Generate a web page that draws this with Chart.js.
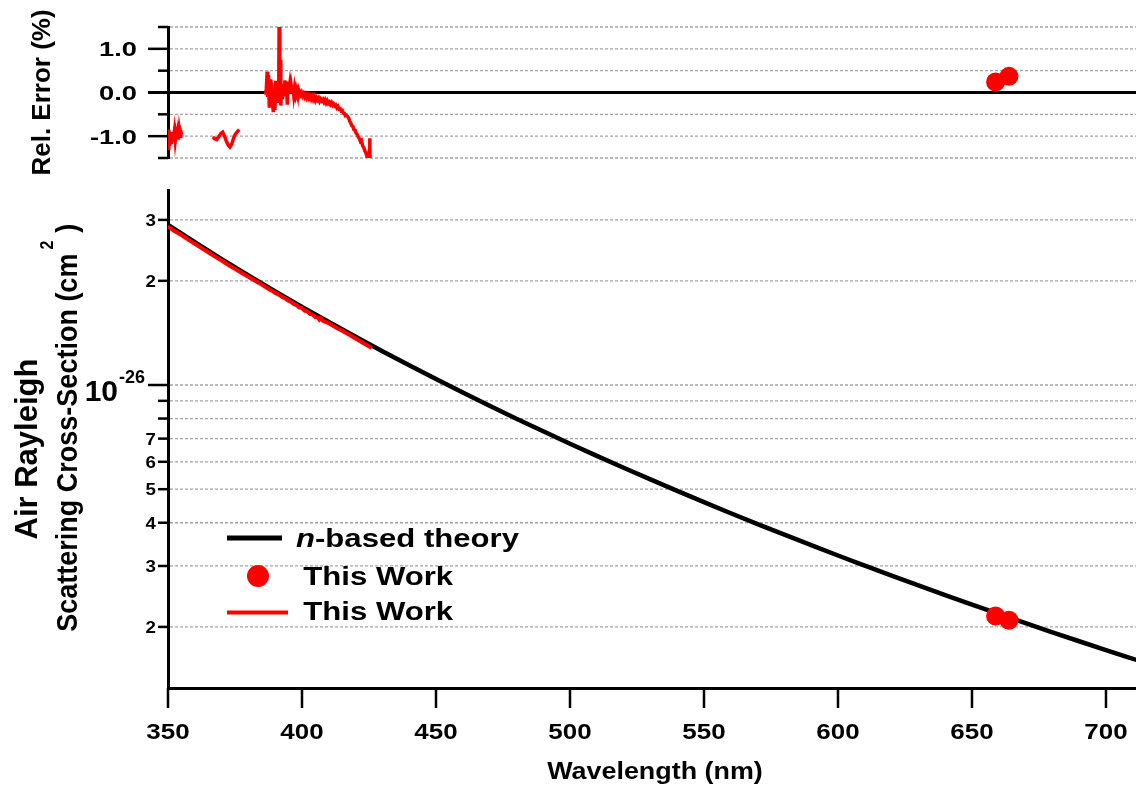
<!DOCTYPE html>
<html lang="en">
<head>
<meta charset="UTF-8">
<title>Air Rayleigh Scattering Cross-Section</title>
<script src="https://cdn.jsdelivr.net/npm/chart.js@4.4.1/dist/chart.umd.min.js"></script>
<style>
  html, body { margin: 0; padding: 0; background: #fff; }
  #wrap { position: relative; width: 1136px; height: 792px; }
  #errChart { position: absolute; left: 0; top: 0; }
  #mainChart { position: absolute; left: 0; top: 180px; }
</style>
</head>
<body>
<div id="wrap">
  <canvas id="errChart" width="1136" height="180"></canvas>
  <canvas id="mainChart" width="1136" height="612"></canvas>
</div>
<script>
// ---- data ----
const wlTicks = [350, 400, 450, 500, 550, 600, 650, 700];
const errTicks = [-1.5, -1.0, -0.5, 0, 0.5, 1.0, 1.5];
const errTickLabels = { "1": "1.0", "0": "0.0", "-1": "-1.0" };
const csTicks = [2e-27, 3e-27, 4e-27, 5e-27, 6e-27, 7e-27, 8e-27, 9e-27, 1e-26, 2e-26, 3e-26];
const csTickLabels = ["2", "3", "4", "5", "6", "7", "", "", "", "2", "3"];

// n-based theory (cm^2)
const theoryWl = [350, 360, 370, 380, 390, 400, 410, 420, 430, 440, 450, 460, 470, 480, 490, 500, 510, 520, 530,
  540, 550, 560, 570, 580, 590, 600, 610, 620, 630, 640, 650, 660, 670, 680, 690, 700, 712];
const theoryVal = [2.900e-26, 2.585e-26, 2.312e-26, 2.073e-26, 1.865e-26, 1.682e-26, 1.521e-26, 1.378e-26,
  1.252e-26, 1.140e-26, 1.040e-26, 9.509e-27, 8.709e-27, 7.992e-27, 7.349e-27, 6.766e-27, 6.241e-27,
  5.765e-27, 5.336e-27, 4.945e-27, 4.588e-27, 4.260e-27, 3.964e-27, 3.695e-27, 3.445e-27, 3.216e-27,
  3.007e-27, 2.813e-27, 2.635e-27, 2.471e-27, 2.320e-27, 2.180e-27, 2.050e-27, 1.930e-27, 1.818e-27,
  1.714e-27, 1.600e-27];

// This Work, broadband spectrum (cm^2)
const workWl = [350, 352, 355, 358, 360, 363, 365, 368, 370, 373, 375, 378, 380, 383, 385, 388, 389, 390, 391,
  392, 393, 394, 395, 396, 397, 398, 399, 400, 401, 402, 403, 404, 405, 406, 406.5, 407, 408, 410, 413, 415,
  418, 420, 423, 425, 426];
const workVal = [2.875e-26, 2.800e-26, 2.712e-26, 2.618e-26, 2.560e-26, 2.474e-26, 2.420e-26, 2.338e-26,
  2.290e-26, 2.212e-26, 2.166e-26, 2.096e-26, 2.054e-26, 1.990e-26, 1.950e-26, 1.885e-26, 1.870e-26,
  1.845e-26, 1.832e-26, 1.810e-26, 1.790e-26, 1.775e-26, 1.752e-26, 1.738e-26, 1.712e-26, 1.700e-26,
  1.676e-26, 1.668e-26, 1.640e-26, 1.632e-26, 1.604e-26, 1.598e-26, 1.570e-26, 1.566e-26, 1.545e-26,
  1.560e-26, 1.530e-26, 1.508e-26, 1.462e-26, 1.435e-26, 1.392e-26, 1.362e-26, 1.320e-26, 1.293e-26, 1.280e-26];

// This Work, single wavelength points
const dotWl = [658.8, 663.8];
const dotVal = [2.15e-27, 2.09e-27];
const dotErr = [0.24, 0.37];

// relative error of the spectrum (%), three pieces
const errWl1 = [350.0, 350.3, 350.6, 350.9, 351.2, 351.5, 351.8, 352.1, 352.4, 352.7, 353.0, 353.3, 353.6,
  353.9, 354.2, 354.5, 354.8, 355.1];
const errVal1 = [-1.28, -0.85, -1.22, -0.95, -1.18, -0.90, -1.12, -1.02, -0.88, -1.10, -0.95, -1.05, -0.92,
  -1.08, -0.86, -1.00, -0.90, -0.96];
const errWl2 = [366.7, 367.4, 368.2, 369.0, 369.7, 370.4, 371.1, 371.8, 372.5, 373.1, 373.8, 374.4, 375.0,
  375.8, 376.6];
const errVal2 = [-1.02, -1.06, -1.08, -1.01, -0.94, -0.91, -1.00, -1.12, -1.21, -1.25, -1.18, -1.06, -0.97,
  -0.90, -0.85];
const errWl3 = [386.4, 386.7, 387.0, 387.2, 387.5, 387.8, 388.1, 388.4, 388.7, 389.0, 389.3, 389.6, 389.9,
  390.2, 390.5, 390.8, 391.1, 391.3, 391.5, 391.7, 391.9, 392.1, 392.4, 392.7, 393.0, 393.3, 393.6, 393.9,
  394.2, 394.5, 394.8, 395.1, 395.4, 395.7, 396.0, 396.3, 396.6, 396.9, 397.2, 397.5, 397.8, 398.1, 398.4,
  398.7, 399.0, 399.4, 399.8, 400.2, 400.6, 401.0, 401.4, 401.8, 402.2, 402.6, 403.0, 403.4, 403.8, 404.2,
  404.6, 405.0, 405.4, 405.8, 406.2, 406.6, 407.0, 407.4, 407.8, 408.2, 408.6, 409.0, 409.4, 409.8, 410.2,
  410.6, 411.0, 411.4, 411.8, 412.2, 412.6, 413.0, 413.4, 413.8, 414.2, 414.6, 415.0, 415.4, 415.8, 416.2,
  416.6, 417.0, 417.4, 417.8, 418.2, 418.6, 419.0, 419.4, 419.8, 420.2, 420.6, 421.0, 421.4, 421.8, 422.2,
  422.6, 423.0, 423.4, 423.8, 424.2, 424.6, 424.9, 425.1, 425.3, 425.4];
const errVal3 = [-0.05, 0.10, 0.48, -0.10, 0.40, -0.35, 0.30, -0.05, 0.22, -0.25, -0.45, 0.05, -0.40,
  0.27, -0.10, 0.15, -0.20, -0.10, 1.90, -0.20, 0.75, -0.30, 0.10, -0.15, 0.20, -0.05, 0.28, 0.05,
  0.25, -0.28, 0.20, 0.05, 0.18, -0.02, 0.15, 0.02, 0.12, -0.05, 0.10, -0.02, 0.08, 0.00, 0.06,
  -0.06, 0.02, -0.05, 0.00, -0.08, -0.03, -0.10, -0.05, -0.12, -0.06, -0.13, -0.08, -0.15, -0.09, -0.16,
  -0.10, -0.18, -0.12, -0.17, -0.13, -0.20, -0.15, -0.19, -0.16, -0.22, -0.17, -0.24, -0.19, -0.25, -0.22,
  -0.27, -0.23, -0.29, -0.26, -0.31, -0.29, -0.35, -0.32, -0.38, -0.37, -0.42, -0.41, -0.47, -0.48, -0.53,
  -0.52, -0.55, -0.58, -0.66, -0.70, -0.76, -0.78, -0.85, -0.86, -0.93, -0.96, -1.02, -1.05, -1.12, -1.10,
  -1.22, -1.25, -1.33, -1.38, -1.45, -1.52, -1.42, -1.55, -1.05, -1.55];

// ---- helpers ----
const FONT = "'Liberation Sans', Arial, sans-serif";
const RED = "#ff0000";
const GRID = "#a4a4a4";

function pts(xs, ys) { return xs.map((x, i) => ({ x, y: ys[i] })); }

// draw horizontal text, optionally stretched sideways
function hText(ctx, str, x, y, size, sx, align, style) {
  ctx.save();
  ctx.font = (style || "bold") + " " + size + "px " + FONT;
  ctx.textBaseline = "alphabetic";
  ctx.textAlign = "left";
  const w = ctx.measureText(str).width * sx;
  const left = align === "right" ? x - w : align === "center" ? x - w / 2 : x;
  ctx.translate(left, y);
  ctx.scale(sx, 1);
  ctx.fillStyle = "#000";
  ctx.fillText(str, 0, 0);
  ctx.restore();
  return w;
}

function dotted(ctx, x1, x2, y) {
  ctx.save();
  ctx.strokeStyle = GRID;
  ctx.lineWidth = 1.3;
  ctx.setLineDash([3, 2]);
  ctx.beginPath();
  ctx.moveTo(x1, y);
  ctx.lineTo(x2, y);
  ctx.stroke();
  ctx.restore();
}

function tick(ctx, x1, y1, x2, y2, w) {
  ctx.save();
  ctx.strokeStyle = "#000";
  ctx.lineWidth = w || 2.5;
  ctx.beginPath();
  ctx.moveTo(x1, y1);
  ctx.lineTo(x2, y2);
  ctx.stroke();
  ctx.restore();
}

const xScaleBase = {
  type: "linear", min: 350, max: 711.2,
  afterBuildTicks: s => { s.ticks = wlTicks.map(v => ({ value: v })); }
};

// ---- top panel: relative error ----
const errDecor = {
  id: "errDecor",
  beforeDatasetsDraw(chart) {
    const { ctx, chartArea: a, scales: { y } } = chart;
    y.ticks.forEach(t => {
      if (t.value !== 0) dotted(ctx, a.left + 2, a.right, y.getPixelForValue(t.value));
    });
    const y0 = y.getPixelForValue(0);
    tick(ctx, a.left - 20, y0, a.right, y0, 3);
  },
  afterDraw(chart) {
    const { ctx, chartArea: a, scales: { y } } = chart;
    y.ticks.forEach(t => {
      const py = y.getPixelForValue(t.value);
      const lab = errTickLabels[String(t.value)];
      tick(ctx, a.left - (lab ? 20 : 10), py, a.left, py);
      if (lab) hText(ctx, lab, 137, py + 7.5, 21, 1.3, "right");
    });
    ctx.save();
    ctx.font = "bold 26px " + FONT;
    ctx.fillStyle = "#000";
    ctx.translate(50, 92.5);
    ctx.rotate(-Math.PI / 2);
    ctx.textAlign = "center";
    ctx.textBaseline = "alphabetic";
    ctx.fillText("Rel. Error (%)", 0, 0);
    ctx.restore();
  }
};

new Chart(document.getElementById("errChart"), {
  type: "scatter",
  data: {
    datasets: [
      { data: pts(dotWl, dotErr), pointRadius: 9.5, pointBackgroundColor: RED, pointBorderWidth: 0, showLine: false },
      { data: pts(errWl1, errVal1), showLine: true, borderColor: RED, borderWidth: 3.5, pointRadius: 0 },
      { data: pts(errWl2, errVal2), showLine: true, borderColor: RED, borderWidth: 3.5, pointRadius: 0 },
      { data: pts(errWl3, errVal3), showLine: true, borderColor: RED, borderWidth: 3.5, pointRadius: 0 }
    ]
  },
  options: {
    responsive: false,
    devicePixelRatio: 1,
    animation: false,
    layout: { autoPadding: false, padding: { top: 27, bottom: 22, left: 0, right: 0 } },
    plugins: { legend: { display: false }, tooltip: { enabled: false } },
    scales: {
      x: Object.assign({ display: false }, xScaleBase),
      y: {
        type: "linear", min: -1.5, max: 1.5,
        afterBuildTicks: s => { s.ticks = errTicks.map(v => ({ value: v })); },
        afterFit: s => { s.width = 168; },
        ticks: { display: false },
        grid: { display: false },
        border: { display: true, color: "#000", width: 3 }
      }
    }
  },
  plugins: [errDecor]
});

// ---- main panel: cross-section ----
const mainDecor = {
  id: "mainDecor",
  beforeDatasetsDraw(chart) {
    const { ctx, chartArea: a, scales: { y } } = chart;
    y.ticks.forEach(t => dotted(ctx, a.left + 2, a.right, y.getPixelForValue(t.value)));
  },
  afterDraw(chart) {
    const { ctx, chartArea: a, scales: { x, y } } = chart;
    // y ticks and labels
    y.ticks.forEach((t, i) => {
      const py = y.getPixelForValue(t.value);
      const decade = t.value === 1e-26;
      tick(ctx, a.left - (decade ? 20 : 10), py, a.left, py);
      if (decade) {
        hText(ctx, "10", 118, py + 15.5, 30, 1.0, "right");
        hText(ctx, "-26", 119, py - 2.5, 18, 1.0, "left");
      } else if (csTickLabels[i]) {
        hText(ctx, csTickLabels[i], 156, py + 6, 17, 1.1, "right");
      }
    });
    // x ticks and labels
    x.ticks.forEach(t => {
      const px = x.getPixelForValue(t.value);
      tick(ctx, px, a.bottom, px, a.bottom + 20);
      hText(ctx, String(t.value), px, 559, 22, 1.18, "center");
    });
    hText(ctx, "Wavelength (nm)", 655, 599, 24, 1.12, "center");

    // y title, two lines
    ctx.save();
    ctx.fillStyle = "#000";
    ctx.textBaseline = "alphabetic";
    ctx.font = "bold 31px " + FONT;
    ctx.translate(37, 269);
    ctx.rotate(-Math.PI / 2);
    ctx.textAlign = "center";
    ctx.fillText("Air Rayleigh", 0, 0);
    ctx.restore();

    ctx.save();
    ctx.fillStyle = "#000";
    ctx.textBaseline = "alphabetic";
    ctx.textAlign = "left";
    ctx.translate(77, 451.7);
    ctx.rotate(-Math.PI / 2);
    ctx.scale(1, 1.12);
    ctx.font = "bold 27px " + FONT;
    const main = "Scattering Cross-Section (cm";
    const w1 = ctx.measureText(main).width;
    ctx.fillText(main, 0, 0);
    ctx.font = "bold 16px " + FONT;
    ctx.fillText("2", w1 + 4, -21);
    const w2 = ctx.measureText("2").width;
    ctx.font = "bold 27px " + FONT;
    ctx.fillText(")", w1 + w2 + 12, 0);
    ctx.restore();

    // legend
    const ds = chart.data.datasets;
    ctx.save();
    ctx.lineWidth = 5;
    ctx.strokeStyle = ds[2].borderColor;
    ctx.beginPath(); ctx.moveTo(227, 358); ctx.lineTo(282, 358); ctx.stroke();
    ctx.fillStyle = ds[0].pointBackgroundColor;
    ctx.beginPath(); ctx.arc(258, 396, 11, 0, Math.PI * 2); ctx.fill();
    ctx.lineWidth = 4;
    ctx.strokeStyle = ds[1].borderColor;
    ctx.beginPath(); ctx.moveTo(227, 432.5); ctx.lineTo(288, 432.5); ctx.stroke();
    ctx.restore();
    const wn = hText(ctx, "n", 296, 366.5, 25.5, 1.22, "left", "italic bold");
    hText(ctx, "-based theory", 296 + wn, 366.5, 25.5, 1.22, "left");
    hText(ctx, "This Work", 303.3, 405, 25.5, 1.22, "left");
    hText(ctx, "This Work", 303.3, 440, 25.5, 1.22, "left");
  }
};

new Chart(document.getElementById("mainChart"), {
  type: "scatter",
  data: {
    datasets: [
      { label: "This Work", data: pts(dotWl, dotVal), pointRadius: 9.5, pointBackgroundColor: RED,
        pointBorderWidth: 0, showLine: false, order: 1 },
      { label: "This Work", data: pts(workWl, workVal), showLine: true, borderColor: RED, borderWidth: 4,
        pointRadius: 0, order: 2 },
      { label: "n-based theory", data: pts(theoryWl, theoryVal), showLine: true, borderColor: "#000",
        borderWidth: 4.5, pointRadius: 0, cubicInterpolationMode: "monotone", order: 3 }
    ]
  },
  options: {
    responsive: false,
    devicePixelRatio: 1,
    animation: false,
    layout: { autoPadding: false, padding: { top: 10, bottom: 0, left: 0, right: 0 } },
    plugins: { legend: { display: false }, tooltip: { enabled: false } },
    scales: {
      x: Object.assign({
        afterFit: s => { s.height = 104; },
        ticks: { display: false },
        grid: { display: false },
        border: { display: true, color: "#000", width: 3 }
      }, xScaleBase),
      y: {
        type: "logarithmic", min: 1.332e-27, max: 3.66e-26,
        afterBuildTicks: s => { s.ticks = csTicks.map(v => ({ value: v })); },
        afterFit: s => { s.width = 168; },
        ticks: { display: false },
        grid: { display: false },
        border: { display: true, color: "#000", width: 3 }
      }
    }
  },
  plugins: [mainDecor]
});
</script>
</body>
</html>
